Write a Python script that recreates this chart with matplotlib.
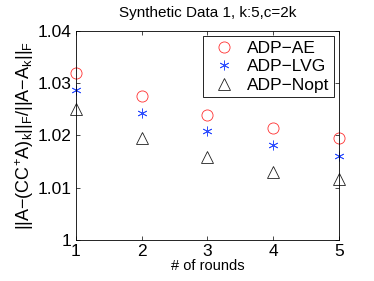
import numpy as np
import matplotlib.pyplot as plt

plt.rcParams['font.family'] = ['Liberation Sans', 'DejaVu Sans']
plt.rcParams['mathtext.default'] = 'regular'

rounds = [1, 2, 3, 4, 5]
adp_ae = [1.0320, 1.0276, 1.0240, 1.0215, 1.0196]
adp_lvg = [1.0286, 1.0242, 1.0209, 1.0182, 1.0161]
adp_nopt = [1.0250, 1.0195, 1.0158, 1.0131, 1.0117]

fig = plt.figure(figsize=(3.74, 2.81), dpi=100)
ax = fig.add_axes([0.203, 0.146, 0.703, 0.744])

ax.plot(rounds, adp_ae, 'o', mfc='none', mec='#ff3030', ms=8, mew=0.6, label='ADP\u2212AE', clip_on=False)
ax.plot(rounds, adp_lvg, marker=(6, 2, 0), ls='none', color='#3050ff', ms=7, mew=0.6, label='ADP\u2212LVG', clip_on=False)
ax.plot(rounds, adp_nopt, '^', mfc='none', mec='#202020', ms=8, mew=0.6, label='ADP\u2212Nopt', clip_on=False)

ax.set_xlim(1, 5)
ax.set_ylim(1, 1.04)
ax.set_xticks(rounds)
ax.set_yticks([1, 1.01, 1.02, 1.03, 1.04])
ax.set_yticklabels(['1', '1.01', '1.02', '1.03', '1.04'])
ax.tick_params(direction='in', top=True, right=True, labelsize=12.5, length=3, width=0.5, pad=3)
for s in ax.spines.values():
    s.set_linewidth(0.6)

ax.set_xlabel('# of rounds', fontsize=10.5, labelpad=0)
ax.set_ylabel(r'||A$-$(CC$^{+}$A)$_k$||$_F$/||A$-$A$_k$||$_F$', fontsize=13, labelpad=1)
ax.set_title('Synthetic Data 1, k:5,c=2k', fontsize=11, pad=10)

leg = ax.legend(loc='upper right', fontsize=12.5, fancybox=False, framealpha=1,
                edgecolor='black', borderpad=0.25, handletextpad=0.3,
                labelspacing=0.2, borderaxespad=0.3)
leg.get_frame().set_linewidth(0.6)

plt.savefig('out.png', dpi=100)
